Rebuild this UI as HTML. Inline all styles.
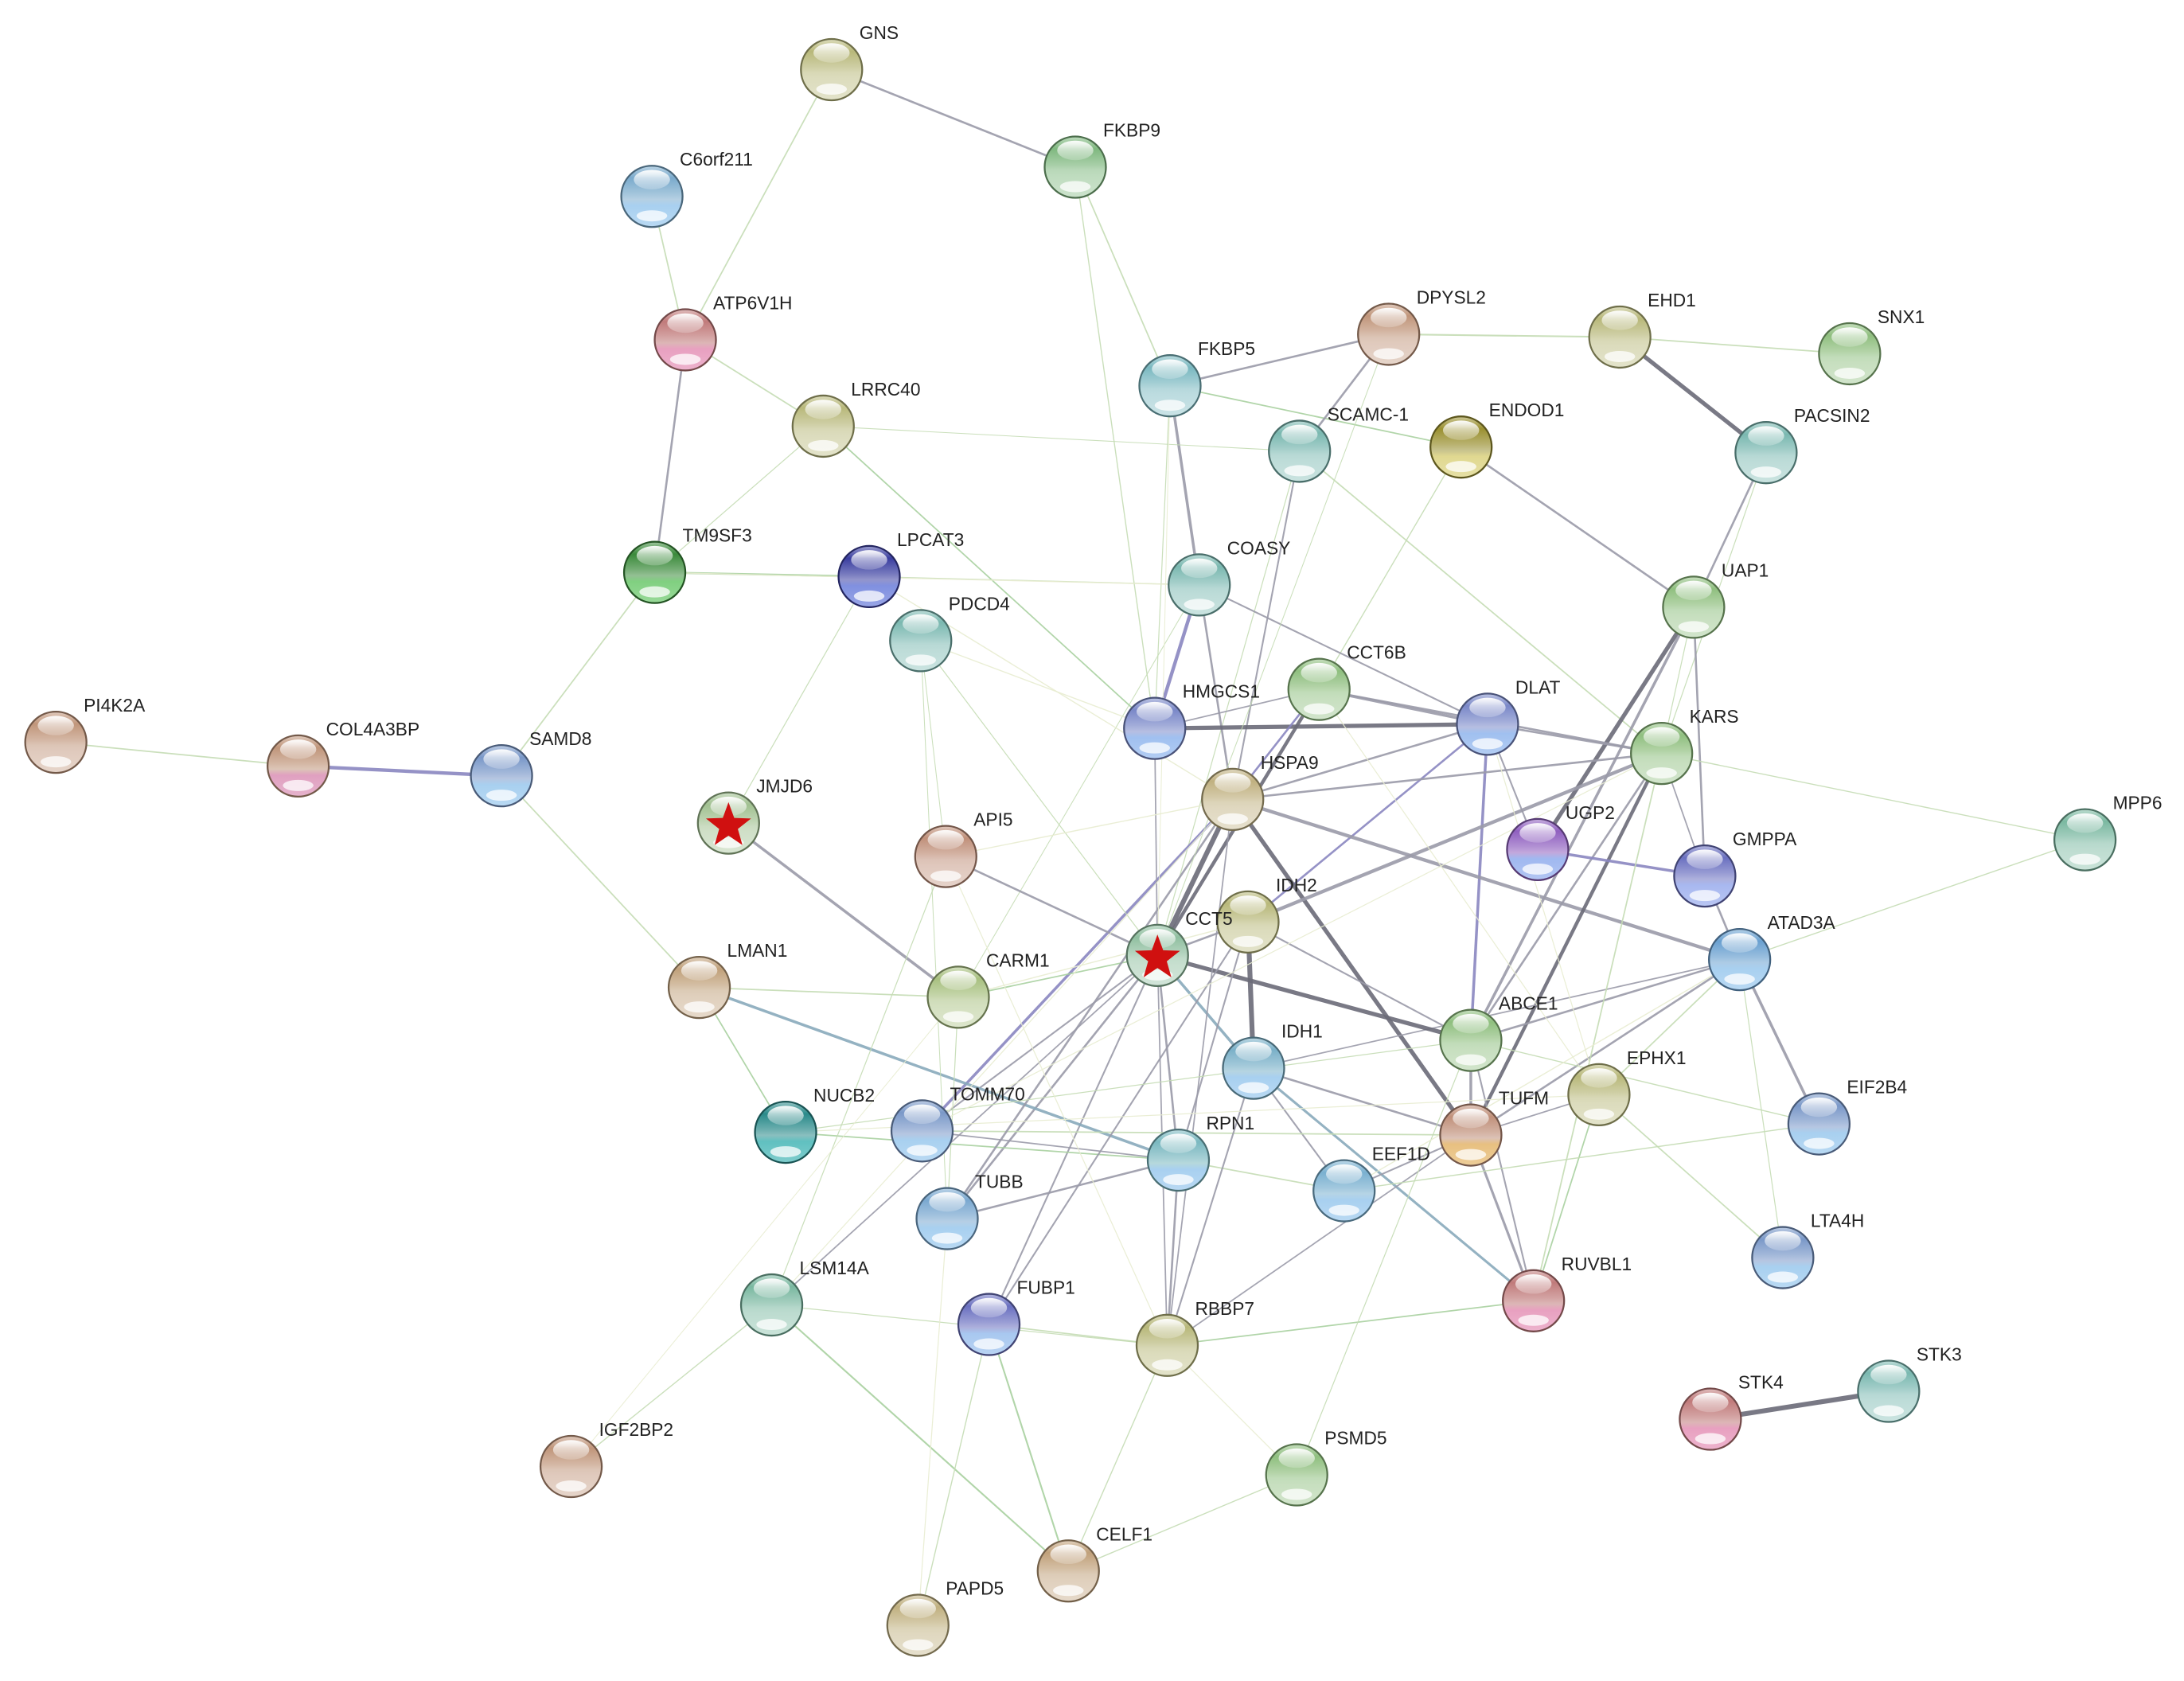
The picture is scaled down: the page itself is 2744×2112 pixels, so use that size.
<!DOCTYPE html>
<html><head><meta charset="utf-8">
<style>
html,body{margin:0;padding:0;background:#fff;}
svg{display:block;}
text{font-family:"Liberation Sans",Arial,sans-serif;font-size:13px;fill:#222;}
</style></head>
<body>
<svg id="s" width="2744" height="2112" viewBox="0 0 1568 1207" xmlns="http://www.w3.org/2000/svg">
<defs>
<linearGradient id="hl" x1="0" y1="0" x2="0" y2="1">
<stop offset="0" stop-color="#fff" stop-opacity="0.95"/>
<stop offset="1" stop-color="#fff" stop-opacity="0.2"/>
</linearGradient>
</defs>
<g id="edges"></g>
<g id="nodes"></g>
</svg>
<script>
var N={
GNS:[597,50,'#b8b87a'],FKBP9:[772,120,'#7fb87f'],C6orf211:[468,141,'#7aaacc','#a8d0f0'],
ATP6V1H:[492,244,'#c07a7a','#e8a0c0'],LRRC40:[591,306,'#b8b87a'],FKBP5:[840,277,'#7ab8c0'],
DPYSL2:[997,240,'#c0957a'],EHD1:[1163,242,'#b8b87a'],SNX1:[1328,254,'#8fbf7f'],
'SCAMC-1':[933,324,'#7ab8b0'],ENDOD1:[1049,321,'#9a9030','#e0d890'],PACSIN2:[1268,325,'#7ab8b0'],
TM9SF3:[470,411,'#3a8a3a','#80d080'],LPCAT3:[624,414,'#3a3ea0','#8090e0'],COASY:[861,420,'#7ab8b0'],
PDCD4:[661,460,'#7ab8b0'],UAP1:[1216,436,'#8fbf7f'],CCT6B:[947,495,'#8fbf7f'],
DLAT:[1068,520,'#7a88c8','#a0c0f0'],KARS:[1193,541,'#8fbf7f'],HMGCS1:[829,523,'#7a88c8','#a0c0f0'],
PI4K2A:[40,533,'#c0957a'],COL4A3BP:[214,550,'#c0957a','#e0a0c0'],SAMD8:[360,557,'#7a98c8','#a8d0f0'],
HSPA9:[885,574,'#c0b080'],JMJD6:[523,591,'#a0c090',null,1],API5:[679,615,'#c0907a'],
UGP2:[1104,610,'#9060c0','#a0b8f0'],GMPPA:[1224,629,'#6a70c0','#a8b8f0'],MPP6:[1497,603,'#7ab8a0'],
IDH2:[896,662,'#b8b87a'],CCT5:[831,686,'#8fbf9f',null,1],CARM1:[688,716,'#a8c080'],
LMAN1:[502,709,'#c0a07a'],ATAD3A:[1249,689,'#6aa0d0','#a8d0f0'],ABCE1:[1056,747,'#8fbf7f'],
IDH1:[900,767,'#7ab0c8','#a8d0f0'],EPHX1:[1148,786,'#b8b87a'],TUFM:[1056,815,'#c0907a','#e8c080'],
EIF2B4:[1306,807,'#7a98c8','#a8d0f0'],NUCB2:[564,813,'#2a8a8a','#60c0c0'],TOMM70:[662,812,'#7a98c8','#a8d0f0'],
RPN1:[846,833,'#7ab8c0','#a8d0f0'],EEF1D:[965,855,'#7ab0d0','#a8d0f0'],TUBB:[680,875,'#7aa8d0','#a8d0f0'],
LTA4H:[1280,903,'#7a98c8','#a8d0f0'],RUVBL1:[1101,934,'#c07a7a','#e8a0c0'],LSM14A:[554,937,'#7ab8a0'],
FUBP1:[710,951,'#6a70c0','#a8c8f0'],RBBP7:[838,966,'#b8b87a'],STK4:[1228,1019,'#c07a7a','#e8a0c0'],
STK3:[1356,999,'#7ab8b0'],IGF2BP2:[410,1053,'#c0957a'],PSMD5:[931,1059,'#8fbf7f'],
CELF1:[767,1128,'#c0a07a'],PAPD5:[659,1167,'#c0b080']
};
var G='#c4dcb4',Y='#9a9aa8',D='#6a6a78',P='#8a86c0',B='#88aabb',Gr='#a8d0a0',F='#e8ecd0';
var E=[
['GNS','FKBP9',Y,1.5],['GNS','ATP6V1H',G,1],['C6orf211','ATP6V1H',G,1],['ATP6V1H','TM9SF3',Y,1.5],
['ATP6V1H','LRRC40',G,1],['TM9SF3','LPCAT3',Gr,1.5],['TM9SF3','SAMD8',G,1],['TM9SF3','LRRC40',G,0.7],
['PI4K2A','COL4A3BP',G,1],['COL4A3BP','SAMD8',P,2.5],['SAMD8','LMAN1',G,1],
['FKBP9','FKBP5',G,1],['FKBP9','HMGCS1',G,0.8],['FKBP5','DPYSL2',Y,1.5],['FKBP5','COASY',Y,2],
['FKBP5','ENDOD1',Gr,1],['FKBP5','HMGCS1',G,0.7],['DPYSL2','EHD1',G,1.2],['DPYSL2','SCAMC-1',Y,1.5],
['EHD1','SNX1',G,1],['EHD1','PACSIN2',D,3],['PACSIN2','UAP1',Y,1.5],['PACSIN2','KARS',G,0.7],
['ENDOD1','UAP1',Y,1.5],['ENDOD1','CCT6B',G,0.8],['SCAMC-1','HSPA9',Y,1.2],['SCAMC-1','KARS',G,1],
['SCAMC-1','CCT5',G,0.7],['SCAMC-1','LRRC40',G,0.6],['COASY','HMGCS1',P,2.5],['COASY','HSPA9',Y,1.5],
['COASY','DLAT',Y,1.2],['COASY','LPCAT3',G,0.7],['COASY','CARM1',G,0.6],['LPCAT3','JMJD6',G,0.7],
['LRRC40','HMGCS1',Gr,1],['UAP1','UGP2',D,3],['UAP1','ABCE1',Y,2],['UAP1','GMPPA',Y,1.5],['UAP1','KARS',G,0.7],
['HMGCS1','DLAT',D,3],['HMGCS1','CCT6B',Y,1],['CCT6B','DLAT',Y,2],['CCT6B','CCT5',D,2.5],['CCT6B','KARS',Y,1.5],
['CCT6B','HSPA9',P,1.5],['DLAT','KARS',Y,1.5],['DLAT','ABCE1',P,2],['DLAT','IDH2',P,1.5],['DLAT','UGP2',Y,1.2],
['HSPA9','CCT5',D,3.5],['HSPA9','ATAD3A',Y,2.5],['HSPA9','TUFM',D,3],['HSPA9','TOMM70',P,2],['HSPA9','KARS',Y,1.5],
['HSPA9','DLAT',Y,1.5],['KARS','IDH2',Y,2.5],['KARS','TUFM',D,2.5],['KARS','ABCE1',Y,1.5],['KARS','MPP6',G,0.8],
['KARS','GMPPA',Y,1],['UGP2','GMPPA',P,2],['GMPPA','ATAD3A',Y,1.5],['ATAD3A','ABCE1',Y,1.5],
['ATAD3A','EIF2B4',Y,2],['ATAD3A','TUFM',Y,1.5],['ATAD3A','MPP6',G,0.8],['ATAD3A','IDH1',Y,1],['ATAD3A','EPHX1',G,1],
['CCT5','IDH2',Y,1.5],['CCT5','ABCE1',D,3],['CCT5','TOMM70',Y,1.2],['CCT5','RPN1',Y,1.5],['CCT5','TUBB',Y,1.5],
['CCT5','FUBP1',Y,1.2],['CCT5','API5',Y,1.5],['CCT5','CARM1',Gr,1],['CCT5','IDH1',B,2],['CCT5','RBBP7',Y,1],
['CCT5','LSM14A',Y,1],['CCT5','PDCD4',G,0.7],['CCT5','HMGCS1',Y,1],['JMJD6','CARM1',Y,2],
['LMAN1','RPN1',B,2],['LMAN1','CARM1',G,1],['LMAN1','NUCB2',Gr,1],['IDH2','IDH1',D,3.5],['IDH2','RPN1',Y,1.2],
['IDH2','ABCE1',Y,1.2],['IDH1','RUVBL1',B,1.8],['IDH1','TUFM',Y,1.5],['IDH1','EEF1D',Y,1.2],['ABCE1','TUFM',Y,2],
['ABCE1','RUVBL1',Y,1.2],['TUFM','RUVBL1',Y,1.8],['TUFM','EEF1D',Y,1.2],['TUFM','RBBP7',Y,1],['RPN1','RBBP7',Y,1.5],
['RPN1','TUBB',Y,1.5],['RPN1','EEF1D',G,1],['RBBP7','RUVBL1',Gr,1],['RBBP7','FUBP1',G,1],['RBBP7','LSM14A',G,0.7],
['LSM14A','CELF1',Gr,1.2],['LSM14A','IGF2BP2',G,0.8],['FUBP1','CELF1',Gr,1.2],['FUBP1','PAPD5',G,0.8],
['CELF1','PSMD5',G,0.8],['CELF1','RBBP7',G,0.8],['STK4','STK3',D,3.5],['EPHX1','LTA4H',G,1],['EPHX1','RUVBL1',Gr,1],
['EPHX1','TUFM',Y,1],['EIF2B4','EEF1D',G,0.8],['NUCB2','RPN1',Gr,1],['TOMM70','TUFM',G,1],['TUBB','HSPA9',Y,1.5],
['TOMM70','RPN1',Y,1],['API5','PDCD4',G,0.6],['FUBP1','IDH2',Y,1.2],['RBBP7','IDH1',Y,1.2],['RBBP7','HSPA9',Y,1],
['PSMD5','ABCE1',G,0.7],['LSM14A','API5',G,0.7],['TUBB','CARM1',G,0.7],['DPYSL2','CCT5',G,0.6],['ABCE1','EIF2B4',G,0.8],
['KARS','RUVBL1',G,1],['LTA4H','ATAD3A',G,0.7],['PDCD4','TUBB',G,0.6],['NUCB2','ABCE1',G,0.7],
['LPCAT3','HSPA9',F,0.8],['PDCD4','HMGCS1',F,0.8],['TM9SF3','COASY',F,0.8],['API5','HSPA9',F,0.8],
['CARM1','IDH2',F,0.8],['TOMM70','KARS',F,0.7],['NUCB2','EPHX1',F,0.7],['LSM14A','HSPA9',F,0.7],
['PAPD5','TUBB',F,0.7],['IGF2BP2','CARM1',F,0.6],['EEF1D','ATAD3A',F,0.8],['RBBP7','API5',F,0.7],
['CCT6B','EPHX1',F,0.7],['DLAT','EPHX1',F,0.7],['FKBP5','CCT5',F,0.6],['PSMD5','RBBP7',F,0.7]
];
var ns='http://www.w3.org/2000/svg';
function el(t,a,p){var e=document.createElementNS(ns,t);for(var k in a)e.setAttribute(k,a[k]);p.appendChild(e);return e;}
function hx(v){v=Math.max(0,Math.min(255,Math.round(v)));return (v<16?'0':'')+v.toString(16);}
function mix(h,w){var r=parseInt(h.substr(1,2),16),g=parseInt(h.substr(3,2),16),b=parseInt(h.substr(5,2),16);
return '#'+hx(r+(255-r)*w)+hx(g+(255-g)*w)+hx(b+(255-b)*w);}
function dark(h,w){var r=parseInt(h.substr(1,2),16),g=parseInt(h.substr(3,2),16),b=parseInt(h.substr(5,2),16);
return '#'+hx(r*w)+hx(g*w)+hx(b*w);}
var eg=document.getElementById('edges'),ng=document.getElementById('nodes'),defs=document.querySelector('defs');
E.forEach(function(e){var a=N[e[0]],b=N[e[1]];if(!a||!b)return;
el('line',{x1:a[0],y1:a[1],x2:b[0],y2:b[1],stroke:e[2],'stroke-width':e[3],'stroke-opacity':0.9},eg);});
var i=0;
for(var k in N){var n=N[k],x=n[0],y=n[1],c=n[2],bot=n[3]||mix(c,0.5);i++;
var gid='g'+i,lg=el('linearGradient',{id:gid,x1:0,y1:0,x2:0,y2:1},defs);
el('stop',{offset:0,'stop-color':mix(c,0.5)},lg);el('stop',{offset:0.2,'stop-color':c},lg);
el('stop',{offset:0.45,'stop-color':mix(c,0.3)},lg);el('stop',{offset:0.55,'stop-color':mix(c,0.45)},lg);
el('stop',{offset:0.65,'stop-color':bot},lg);
el('stop',{offset:1,'stop-color':mix(bot,0.2)},lg);
el('circle',{cx:x,cy:y,r:22,fill:'url(#'+gid+')',stroke:dark(c,0.6),'stroke-width':1.3},ng);
el('ellipse',{cx:x,cy:y-12,rx:13,ry:7,fill:'url(#hl)'},ng);
el('ellipse',{cx:x,cy:y+14,rx:11,ry:4,fill:'#fff','fill-opacity':0.75},ng);
if(n[4]){var pts=[],R=17,r2=7;for(var j=0;j<10;j++){var ang=-Math.PI/2+j*Math.PI/5,rr=j%2?r2:R;
pts.push((x+rr*Math.cos(ang)).toFixed(1)+','+(y+2+rr*Math.sin(ang)).toFixed(1));}
el('polygon',{points:pts.join(' '),fill:'#d01010'},ng);}
var t=el('text',{x:x+20,y:y-22},ng);t.textContent=k;}
</script>
</body></html>
